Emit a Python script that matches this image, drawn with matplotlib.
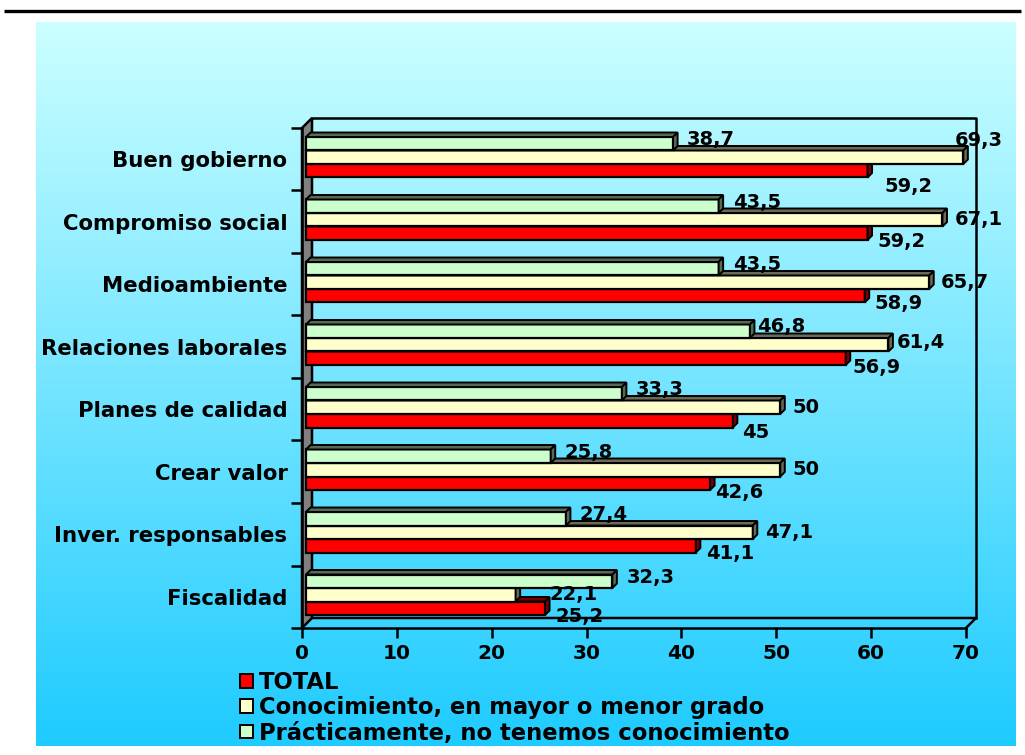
import numpy as np
import matplotlib.pyplot as plt
from matplotlib.patches import Polygon, Patch
from matplotlib.colors import LinearSegmentedColormap

plt.rcParams['font.family'] = ['DejaVu Sans']
plt.rcParams['font.weight'] = 'bold'

# data (top to bottom as shown)
categories = ['Buen gobierno', 'Compromiso social', 'Medioambiente', 'Relaciones laborales',
              'Planes de calidad', 'Crear valor', 'Inver. responsables', 'Fiscalidad']
total = [59.2, 59.2, 58.9, 56.9, 45, 42.6, 41.1, 25.2]
conocimiento = [69.3, 67.1, 65.7, 61.4, 50, 50, 47.1, 22.1]
no_conocimiento = [38.7, 43.5, 43.5, 46.8, 33.3, 25.8, 27.4, 32.3]
series_names = ['TOTAL', 'Conocimiento, en mayor o menor grado',
                'Prácticamente, no tenemos conocimiento']

W, H = 1025, 755
fig = plt.figure(figsize=(W / 100, H / 100), dpi=100)

# background: black rule and cyan gradient panel (pixel coords)
bg = fig.add_axes([0, 0, 1, 1])
bg.set_xlim(0, W)
bg.set_ylim(H, 0)
bg.axis('off')
grad = np.linspace(0, 1, 256).reshape(-1, 1)
cmap = LinearSegmentedColormap.from_list('cy', ['#CCFFFF', '#1ECBFF'])
bg.imshow(grad, cmap=cmap, aspect='auto', extent=[36, 1016, 746, 22], zorder=0)
bg.plot([4, 1021], [11, 11], color='black', lw=2.4, solid_capstyle='butt')

# front plane of the plot area
x0, x1, ytop, ybot = 302, 966, 128, 628
ax = fig.add_axes([x0 / W, (H - ybot) / H, (x1 - x0) / W, (ybot - ytop) / H])
ax.patch.set_alpha(0)
ax.set_xlim(0, 70)
ax.set_ylim(8, 0)
px_x = (x1 - x0) / 70.0
px_y = (ybot - ytop) / 8.0

def dxp(p):
    return p / px_x

def dyp(p):
    return p / px_y

lk = dict(color='black', lw=1.8, clip_on=False)

# side wall, back wall, floor
wx, wy = dxp(10), dyp(10)
ax.add_patch(Polygon([(0, 0), (wx, -wy), (wx, 8 - wy), (0, 8)], closed=True,
                     facecolor='#808080', edgecolor='black', lw=1.8, clip_on=False, zorder=1))
ax.plot([wx, 70 + wx, 70 + wx], [-wy, -wy, 8 - wy], **lk, zorder=1)
ax.plot([wx, 70 + wx, 70], [8 - wy, 8 - wy, 8], **lk, zorder=1)

# bars with a small 3D depth
sx = dxp(4)
ddx, ddy = dxp(4.5), dyp(4.5)
bh = dyp(13.5)
g_top = dyp(9)
colors = ['#FF0000', '#FFFFCC', '#CCFFCC']
dark = ['#7a0000', '#6b6b55', '#556b55']
series = [total, conocimiento, no_conocimiento]
# slot order inside a category: green on top, yellow, red at bottom
slot = {2: 0, 1: 1, 0: 2}

for s in [0, 1, 2]:
    vals = series[s]
    tops = [i + g_top + slot[s] * bh for i in range(len(categories))]
    ax.barh([t + bh / 2 for t in tops], vals, height=bh, left=sx, color=colors[s],
            edgecolor='black', lw=1.6, zorder=3 + s)
    for v, t in zip(vals, tops):
        top_face = [(sx, t), (sx + v, t), (sx + v + ddx, t - ddy), (sx + ddx, t - ddy)]
        side_face = [(sx + v, t), (sx + v + ddx, t - ddy), (sx + v + ddx, t + bh - ddy), (sx + v, t + bh)]
        for poly in (top_face, side_face):
            ax.add_patch(Polygon(poly, closed=True, facecolor=dark[s], edgecolor='black',
                                 lw=1.4, zorder=3 + s, clip_on=False))

# value labels (offsets in pixels, right/down)
default_off = {0: (10, 8), 1: (12, 0), 2: (14, -4)}
nudge = {(0, 1): (-9, -17), (0, 0): (17, 16), (7, 1): (34, 0), (3, 2): (7, -5),
         (3, 1): (8, -2), (3, 0): (7, 9), (5, 0): (5, 9), (4, 0): (9, 12)}
for s in [0, 1, 2]:
    for i, v in enumerate(series[s]):
        yc = i + g_top + slot[s] * bh + bh / 2
        ox, oy = nudge.get((i, s), default_off[s])
        txt = ('%g' % v).replace('.', ',')
        ax.annotate(txt, xy=(sx + v, yc), xytext=(ox * 0.72, -oy * 0.72),
                    textcoords='offset points', ha='left', va='center',
                    fontsize=14, fontweight='bold', zorder=10, annotation_clip=False)

# axes styling
for sp in ['top', 'right']:
    ax.spines[sp].set_visible(False)
for sp in ['left', 'bottom']:
    ax.spines[sp].set_linewidth(1.8)
    ax.spines[sp].set_zorder(2)
ax.set_xticks(range(0, 71, 10))
ax.set_xticklabels([str(t) for t in range(0, 71, 10)], fontsize=14.5, fontweight='bold')
ax.tick_params(axis='x', direction='out', length=7.5, width=1.8, pad=4)
ax.set_yticks(range(0, 9))
ax.set_yticklabels([])
ax.tick_params(axis='y', which='major', direction='out', length=8, width=1.8)
ax.set_yticks([i + 0.5 for i in range(len(categories))], minor=True)
ax.set_yticklabels(categories, minor=True, fontsize=15.3, fontweight='bold')
ax.tick_params(axis='y', which='minor', length=0, pad=10.5)

# legend
handles = [Patch(facecolor=c, edgecolor='black', lw=1.4) for c in colors]
fig.legend(handles, series_names, loc='upper left', bbox_to_anchor=(240 / W, 1 - 671 / H),
           frameon=False, prop=dict(size=16.3, weight='bold'), handlelength=0.56,
           handleheight=0.56, handletextpad=0.28, labelspacing=0.1, borderpad=0, borderaxespad=0)

fig.savefig('out.png', dpi=100)
